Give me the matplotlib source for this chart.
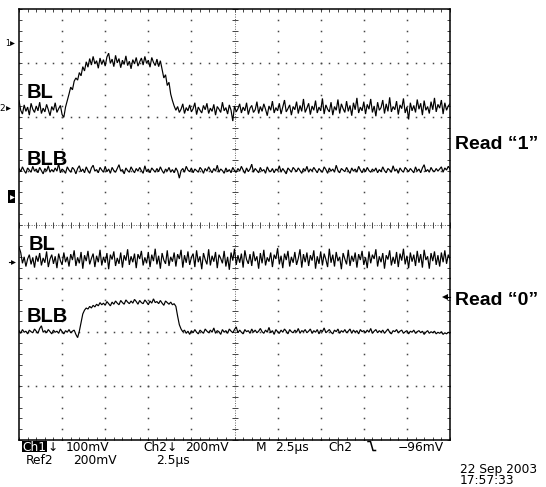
import numpy as np
import matplotlib
matplotlib.use("Agg")
import matplotlib.pyplot as plt
from matplotlib.patches import Rectangle

# Screen traces in vertical divisions (0 = bottom graticule line, 8 = top),
# sampled every 0.1 us across 10 divisions of 2.5 us.
SAMPLE_US = 0.1

bl_read1 = [
    6.30, 6.12, 6.05, 6.22, 6.10, 6.18, 6.03, 6.25, 6.14, 6.08,
    6.20, 6.11, 6.27, 6.06, 6.16, 6.09, 6.23, 6.13, 6.02, 6.19,
    6.12, 6.26, 6.08, 6.15, 6.21, 6.04, 5.99, 6.18, 6.30, 6.42,
    6.55, 6.50, 6.66, 6.72, 6.68, 6.82, 6.76, 6.93, 6.85, 7.02,
    6.92, 7.08, 6.96, 7.12, 6.98, 7.04, 6.90, 7.09, 6.97, 7.06,
    6.94, 7.11, 7.18, 6.99, 7.07, 6.93, 7.14, 7.00, 7.08, 6.91,
    7.05, 6.97, 7.13, 6.95, 7.03, 6.89, 7.06, 6.98, 7.10, 6.94,
    7.02, 7.09, 6.96, 7.12, 6.99, 7.05, 6.92, 7.10, 7.01, 6.95,
    7.07, 6.93, 7.04, 6.88, 6.72, 6.78, 6.58, 6.64, 6.42, 6.30,
    6.20, 6.12, 6.19, 6.08, 6.14, 6.24, 6.06, 6.17, 6.11, 6.22,
    6.09, 6.15, 6.26, 6.04, 6.18, 6.12, 6.07, 6.21, 6.13, 6.25,
    6.06, 6.16, 6.10, 6.23, 6.03, 6.19, 6.14, 6.08, 6.27, 6.11,
    6.17, 6.05, 6.22, 6.12, 5.92, 6.20, 6.09, 6.15, 6.24, 6.07,
    6.18, 6.11, 6.26, 6.04, 6.16, 6.21, 6.08, 6.13, 6.28, 6.06,
    6.19, 6.10, 6.24, 6.14, 6.02, 6.20, 6.12, 6.29, 6.07, 6.17,
    6.11, 6.25, 6.05, 6.18, 6.31, 6.09, 6.15, 6.22, 6.03, 6.19,
    6.13, 6.28, 6.06, 6.21, 6.10, 6.33, 6.08, 6.16, 6.25, 6.04,
    6.20, 6.12, 6.30, 6.07, 6.18, 6.11, 6.34, 6.05, 6.22, 6.14,
    6.09, 6.27, 6.03, 6.19, 6.12, 6.32, 6.06, 6.24, 6.15, 6.08,
    6.29, 6.10, 6.21, 6.02, 6.26, 6.13, 6.35, 6.07, 6.18, 6.11,
    6.28, 6.05, 6.23, 6.14, 6.33, 6.08, 6.20, 6.01, 6.27, 6.12,
    6.17, 6.31, 6.06, 6.24, 6.10, 6.36, 6.09, 6.19, 6.13, 6.29,
    6.04, 6.22, 6.15, 6.34, 6.07, 6.18, 5.95, 6.26, 6.11, 6.21,
    6.08, 6.32, 6.14, 6.25, 6.03, 6.30, 6.12, 6.19, 6.06, 6.28,
    6.13, 6.35, 6.09, 6.23, 6.16, 6.31, 6.05, 6.26, 6.12, 6.20,
    6.24,
]

blb_read1 = [
    5.04, 4.98, 5.07, 5.00, 4.95, 5.05, 5.01, 4.97, 5.08, 4.99,
    5.03, 4.96, 5.06, 5.00, 4.94, 5.04, 4.99, 5.09, 4.97, 5.02,
    4.98, 5.05, 4.99, 5.13, 4.96, 5.03, 5.00, 4.95, 5.07, 5.01,
    4.97, 5.06, 5.02, 4.94, 5.04, 5.09, 4.98, 5.03, 4.96, 5.07,
    5.00, 4.95, 5.05, 5.10, 4.99, 5.02, 4.96, 5.06, 5.01, 4.97,
    5.08, 4.98, 5.03, 4.95, 5.06, 5.00, 4.97, 5.04, 5.11, 4.99,
    5.02, 4.94, 5.05, 5.00, 4.97, 5.07, 5.01, 4.96, 5.04, 4.99,
    5.06, 5.00, 4.95, 5.09, 4.98, 5.03, 4.96, 5.05, 5.01, 4.97,
    5.04, 4.98, 5.07, 5.00, 4.95, 5.03, 4.99, 5.06, 4.97, 5.02,
    4.96, 5.05, 4.99, 4.86, 5.00, 5.04, 4.97, 5.08, 5.01, 4.98,
    5.05, 4.96, 5.03, 5.00, 4.97, 5.06, 5.02, 4.95, 5.04, 4.99,
    5.07, 5.01, 4.96, 5.04, 4.99, 5.10, 4.97, 5.03, 5.00, 4.95,
    5.05, 4.98, 5.02, 4.96, 5.06, 5.00, 4.97, 5.04, 4.99, 5.08,
    5.01, 4.95, 5.05, 4.98, 5.03, 5.12, 4.97, 5.04, 5.00, 4.96,
    5.06, 4.99, 5.02, 4.95, 5.07, 5.00, 4.98, 5.04, 4.96, 5.03,
    5.00, 5.09, 4.97, 5.04, 4.99, 4.94, 5.05, 5.01, 4.97, 5.06,
    5.02, 4.98, 5.05, 5.00, 4.95, 5.04, 4.99, 5.08, 4.97, 5.03,
    4.99, 5.06, 5.01, 4.96, 5.04, 5.00, 4.97, 5.07, 5.02, 4.95,
    5.05, 4.99, 5.03, 4.97, 5.10, 5.00, 4.96, 5.04, 5.01, 4.98,
    5.06, 5.00, 4.95, 5.05, 4.99, 5.03, 4.97, 5.08, 5.01, 4.96,
    5.04, 4.98, 5.06, 5.00, 4.97, 5.03, 4.99, 5.05, 4.96, 5.02,
    4.98, 5.07, 5.00, 4.96, 5.04, 5.01, 4.97, 5.09, 4.99, 5.03,
    4.95, 5.05, 5.00, 4.97, 5.06, 5.02, 4.98, 5.04, 5.00, 4.96,
    5.07, 4.99, 5.03, 4.96, 5.05, 5.11, 4.98, 5.02, 4.97, 5.06,
    5.00, 4.98, 5.04, 4.99, 5.03, 5.07, 4.97, 5.05, 5.01, 5.08,
    5.03,
]

bl_read0 = [
    3.58, 3.48, 3.28, 3.40, 3.22, 3.36, 3.44, 3.26, 3.39, 3.20,
    3.42, 3.31, 3.47, 3.24, 3.38, 3.29, 3.50, 3.21, 3.36, 3.44,
    3.27, 3.41, 3.19, 3.46, 3.33, 3.25, 3.48, 3.30, 3.40, 3.22,
    3.45, 3.34, 3.52, 3.23, 3.39, 3.28, 3.49, 3.18, 3.43, 3.32,
    3.51, 3.26, 3.37, 3.46, 3.21, 3.42, 3.30, 3.53, 3.24, 3.40,
    3.29, 3.47, 3.17, 3.44, 3.35, 3.50, 3.23, 3.38, 3.27, 3.48,
    3.20, 3.43, 3.33, 3.54, 3.25, 3.41, 3.30, 3.46, 3.19, 3.45,
    3.36, 3.51, 3.24, 3.39, 3.28, 3.49, 3.21, 3.44, 3.32, 3.55,
    3.26, 3.42, 3.18, 3.47, 3.34, 3.27, 3.52, 3.23, 3.40, 3.31,
    3.48, 3.22, 3.45, 3.36, 3.53, 3.20, 3.43, 3.29, 3.50, 3.25,
    3.39, 3.46, 3.21, 3.52, 3.30, 3.41, 3.17, 3.47, 3.35, 3.26,
    3.54, 3.24, 3.42, 3.31, 3.49, 3.19, 3.44, 3.37, 3.28, 3.51,
    3.22, 3.40, 3.16, 3.48, 3.33, 3.55, 3.25, 3.43, 3.29, 3.46,
    3.20, 3.52, 3.35, 3.27, 3.45, 3.23, 3.50, 3.32, 3.41, 3.18,
    3.47, 3.28, 3.53, 3.24, 3.39, 3.31, 3.48, 3.21, 3.44, 3.36,
    3.56, 3.26, 3.42, 3.19, 3.46, 3.34, 3.51, 3.22, 3.40, 3.29,
    3.49, 3.25, 3.37, 3.54, 3.20, 3.45, 3.30, 3.48, 3.23, 3.43,
    3.33, 3.52, 3.18, 3.41, 3.27, 3.50, 3.24, 3.46, 3.35, 3.21,
    3.55, 3.29, 3.44, 3.22, 3.49, 3.32, 3.40, 3.17, 3.47, 3.36,
    3.26, 3.53, 3.23, 3.42, 3.31, 3.48, 3.20, 3.45, 3.34, 3.51,
    3.25, 3.39, 3.19, 3.50, 3.28, 3.44, 3.36, 3.54, 3.22, 3.41,
    3.30, 3.47, 3.18, 3.43, 3.35, 3.52, 3.24, 3.40, 3.27, 3.49,
    3.21, 3.46, 3.33, 3.55, 3.26, 3.42, 3.19, 3.48, 3.31, 3.44,
    3.23, 3.51, 3.29, 3.45, 3.20, 3.53, 3.34, 3.41, 3.18, 3.47,
    3.32, 3.50, 3.25, 3.43, 3.22, 3.48, 3.30, 3.52, 3.27, 3.44,
    3.36,
]

blb_read0 = [
    2.03, 1.98, 2.05, 2.00, 2.02, 1.97, 2.04, 2.01, 1.99, 2.06,
    2.02, 1.98, 2.07, 2.12, 2.00, 2.03, 1.99, 2.05, 2.01, 1.97,
    2.04, 2.00, 2.02, 1.98, 2.06, 2.01, 1.97, 2.03, 2.00, 2.05,
    1.99, 2.02, 2.04, 1.96, 1.90, 2.02, 2.18, 2.34, 2.41, 2.45,
    2.43, 2.48, 2.45, 2.50, 2.47, 2.52, 2.49, 2.55, 2.51, 2.54,
    2.50, 2.57, 2.53, 2.49, 2.56, 2.52, 2.58, 2.54, 2.51, 2.59,
    2.55, 2.52, 2.60, 2.56, 2.53, 2.58, 2.54, 2.61, 2.57, 2.52,
    2.59, 2.55, 2.53, 2.60, 2.56, 2.51, 2.58, 2.54, 2.62, 2.55,
    2.57, 2.53, 2.59, 2.54, 2.50, 2.58, 2.55, 2.52, 2.56, 2.51,
    2.53, 2.48, 2.30, 2.14, 2.06, 2.01, 2.04, 1.98, 2.02, 1.96,
    2.03, 1.99, 2.05, 2.00, 1.97, 2.04, 2.01, 1.98, 2.06, 2.02,
    1.99, 2.04, 2.00, 2.08, 1.98, 2.03, 2.01, 1.96, 2.05, 2.00,
    2.03, 1.98, 2.06, 2.02, 1.99, 2.05, 2.10, 1.99, 2.04, 2.00,
    1.97, 2.05, 2.01, 2.03, 1.98, 2.06, 2.00, 2.04, 1.99, 2.02,
    2.07, 2.01, 1.98, 2.04, 2.00, 2.09, 1.99, 2.03, 1.96, 2.05,
    2.01, 1.98, 2.04, 2.00, 2.06, 2.02, 1.97, 2.05, 2.01, 1.99,
    2.04, 2.00, 2.07, 1.98, 2.03, 2.01, 2.05, 1.99, 2.02, 2.06,
    1.98, 2.03, 2.00, 2.05, 1.97, 2.04, 2.01, 2.08, 1.99, 2.02,
    2.05, 2.00, 1.97, 2.04, 2.01, 2.06, 1.98, 2.03, 2.00, 2.05,
    1.99, 2.02, 2.06, 1.98, 2.04, 2.00, 2.03, 1.97, 2.05, 2.01,
    2.03, 1.99, 2.04, 2.00, 2.07, 1.98, 2.02, 2.05, 1.99, 2.03,
    2.00, 2.04, 1.98, 2.02, 2.06, 2.00, 1.97, 2.03, 2.01, 2.05,
    1.99, 2.02, 2.04, 1.98, 2.01, 2.03, 1.97, 2.02, 2.00, 2.04,
    1.98, 2.01, 2.03, 1.99, 2.02, 1.96, 2.00, 2.03, 1.98, 2.01,
    1.99, 2.02, 1.97, 2.00, 1.98, 2.01, 1.96, 1.99, 1.97, 2.00,
    1.98,
]

trace_labels = ["BL", "BLB", "BL", "BLB"]
read_labels = ["Read \u201c1\u201d", "Read \u201c0\u201d"]

status_row1 = ["\u2193", "100mV", "Ch2\u2193", "200mV", "M", "2.5\u00b5s", "Ch2", "\u221296mV"]
status_row2 = ["Ref2", "200mV", "2.5\u00b5s"]
date_text = ["22 Sep 2003", "17:57:33"]

W, H, DPI = 546, 487, 100
fig = plt.figure(figsize=(W / DPI, H / DPI), dpi=DPI, facecolor="white")

# graticule: 10 x 8 divisions
L, T, R, B = 19, 9, 450, 440
ax = fig.add_axes([L / W, (H - B) / H, (R - L) / W, (B - T) / H])
ax.set_xlim(0, 25)
ax.set_ylim(0, 8)
for s in ax.spines.values():
    s.set_linewidth(1.1)
    s.set_color("black")

xt = np.arange(0, 25.001, 0.5)
yt = np.arange(0, 8.001, 0.2)
ax.set_xticks(xt)
ax.set_yticks(yt)
ax.set_xticklabels([])
ax.set_yticklabels([])
ax.tick_params(direction="in", length=2.5, width=0.7, color="#444",
               top=True, right=True)

dot_kw = dict(ls="none", marker="s", ms=1.1, mew=0, color="#444")
for k in range(1, 10):
    if k == 5:
        continue
    ax.plot(np.full(len(yt), 2.5 * k), yt, **dot_kw)
for j in range(1, 8):
    if j == 4:
        continue
    ax.plot(xt, np.full(len(xt), j), **dot_kw)

# centre cross with minor division marks
ax.axvline(12.5, color="#666", lw=0.7, ls=(0, (1, 1.5)))
ax.axhline(4, color="#666", lw=0.7, ls=(0, (1, 1.5)))
ax.plot(np.full(len(yt), 12.5), yt, ls="none", marker="_", ms=5, mew=0.7, color="#444")
ax.plot(xt, np.full(len(xt), 4), ls="none", marker="|", ms=5, mew=0.7, color="#444")

for tr in (bl_read1, blb_read1, bl_read0, blb_read0):
    t = np.arange(len(tr)) * SAMPLE_US
    ax.plot(t, tr, color="black", lw=0.85, solid_joinstyle="miter")

# overlay in pixel coordinates for labels and markers
ov = fig.add_axes([0, 0, 1, 1], zorder=5)
ov.set_xlim(0, W)
ov.set_ylim(H, 0)
ov.axis("off")
ov.patch.set_alpha(0)

bold = dict(family="Liberation Sans", weight="bold", color="black")
label_pos = [(27, 98), (27, 165), (29, 250), (27, 322)]
for txt, (x, y) in zip(trace_labels, label_pos):
    ov.text(x, y, txt, fontsize=14.5, ha="left", va="baseline", **bold)
for txt, y in zip(read_labels, [149, 305]):
    ov.text(455, y, txt, fontsize=14, ha="left", va="baseline", **bold)

# channel position markers
ov.text(7.5, 43, "1", fontsize=5.5, ha="center", va="center", family="DejaVu Sans")
ov.plot([11.5], [43], marker=">", ms=3.5, color="black", mew=0)
ov.text(2.5, 108.5, "2", fontsize=6.5, ha="center", va="center", family="DejaVu Sans")
ov.plot([7.5], [108], marker=">", ms=3.5, color="black", mew=0)
ov.add_patch(Rectangle((8, 190), 6.5, 13, facecolor="black", edgecolor="none"))
ov.plot([11.5], [196.5], marker=">", ms=3.5, color="white", mew=0)
ov.plot([9, 12], [262, 262], color="black", lw=0.8)
ov.plot([12.5], [262], marker=">", ms=3.5, color="black", mew=0)
ov.plot([444, 450], [297, 297], color="black", lw=0.8)
ov.plot([444.5], [297], marker="<", ms=4.5, color="black", mew=0)

# status readout
stat = dict(family="DejaVu Sans", fontsize=8.8, color="black", va="baseline", ha="left")
ov.add_patch(Rectangle((21.5, 440.5), 25.5, 11.5, facecolor="black", edgecolor="none"))
ov.text(22.5, 451, "Ch1", **{**stat, "color": "white"})
row1_x = [48, 66, 143, 185, 256, 275, 328, 398]
for txt, x in zip(status_row1, row1_x):
    ov.text(x, 451, txt, **stat)
# falling-edge trigger symbol
ov.plot([368, 370.5, 373, 375.5], [441.5, 441.5, 450.5, 450.5], color="black", lw=1.1)
row2_x = [26, 73, 156]
for txt, x in zip(status_row2, row2_x):
    ov.text(x, 464, txt, **stat)
ov.text(460, 473, date_text[0], **stat)
ov.text(460, 484.5, date_text[1], **stat)

fig.savefig("out.png", dpi=DPI, facecolor="white")
